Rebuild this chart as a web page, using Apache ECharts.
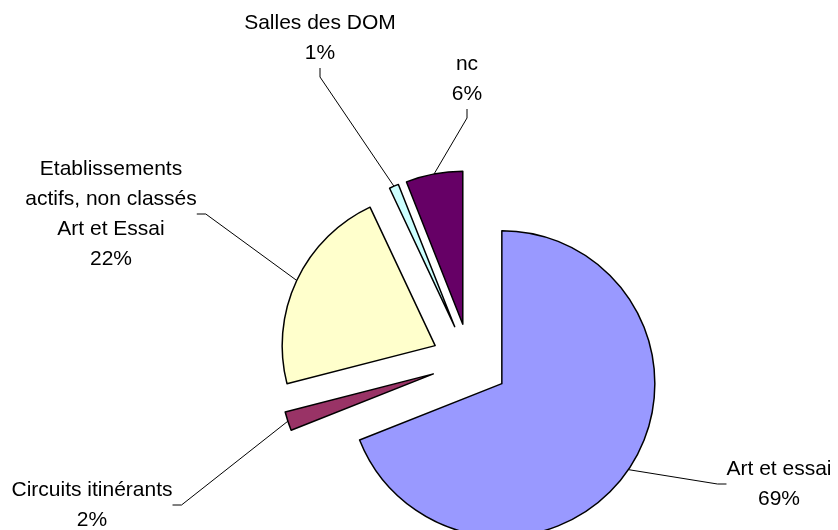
<!DOCTYPE html>
<html><head><meta charset="utf-8">
<script src="https://cdn.jsdelivr.net/npm/echarts@6/dist/echarts.min.js"></script>
<style>html,body{margin:0;padding:0;background:#fff}#c{width:838px;height:530px}</style>
</head><body><div id="c"></div>
<script>
const categories = ['Art et essai', 'Circuits itinérants', 'Etablissements\nactifs, non classés\nArt et Essai', 'Salles des DOM', 'nc'];
const values = [69, 2, 22, 1, 6];

const colors = ['#9999FF', '#993366', '#FFFFCC', '#CCFFFF', '#660066'];
const labelCenters = [[779, 484], [92, 505], [111, 214], [320, 38], [467, 79]];
const baseCenter = [470, 362];
const pieRadius = 153;
const explode = 38.5;

const chart = echarts.init(document.getElementById('c'), null, {renderer: 'canvas'});
const total = values.reduce((a, b) => a + b, 0);
let cum = 0;
const series = values.map((v, i) => {
  const mid = (cum + v / 2) / total * 2 * Math.PI;
  cum += v;
  const cx = baseCenter[0] + explode * Math.sin(mid);
  const cy = baseCenter[1] - explode * Math.cos(mid);
  return {
    type: 'pie',
    center: [cx, cy],
    radius: pieRadius,
    startAngle: 90,
    clockwise: true,
    percentPrecision: 0,
    avoidLabelOverlap: false,
    minShowLabelAngle: 0,
    silent: true,
    emphasis: {disabled: true, scale: false},
    label: {
      position: 'outside',
      formatter: '{b}\n{d}%',
      color: '#000',
      fontFamily: 'Liberation Sans, Arial, sans-serif',
      fontSize: 21,
      lineHeight: 30,
      align: 'center'
    },
    labelLine: {length: 20, length2: 9, smooth: false,
      lineStyle: {color: '#000', width: 1}},
    labelLayout: function (p) {
      if (p.dataIndex !== i) return {};
      const c = labelCenters[i];
      return {x: c[0], y: c[1], align: 'center', verticalAlign: 'middle'};
    },
    data: categories.map((n, j) => ({
      name: n,
      value: values[j],
      itemStyle: j === i
        ? {color: colors[j], borderColor: '#000', borderWidth: 1.5}
        : {color: 'rgba(0,0,0,0)', borderWidth: 0},
      label: {show: j === i},
      labelLine: {show: j === i}
    }))
  };
});
chart.setOption({animation: false, backgroundColor: '#fff', series: series});
</script></body></html>
